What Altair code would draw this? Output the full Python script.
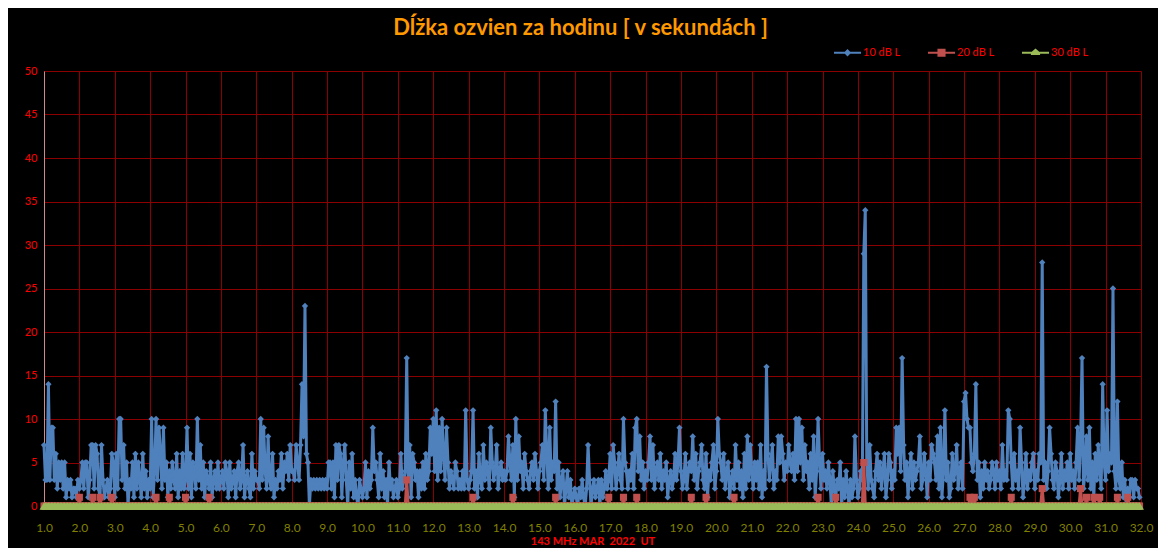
import altair as alt
import pandas as pd

# hourly echo durations [s], 10 dB L, one list per day of March 2022
d01 = [7, 3, 3, 14, 3, 9, 9, 3, 6, 2, 5, 3, 5, 2, 5, 1, 3, 2, 3, 1, 2, 2, 1, 3]
d02 = [2, 3, 5, 2, 5, 5, 1, 3, 7, 7, 2, 7, 6, 2, 1, 7, 3, 1, 2, 3, 1, 2, 6, 5]
d03 = [1, 6, 2, 10, 10, 3, 7, 2, 5, 0, 3, 2, 5, 1, 6, 2, 5, 3, 1, 6, 2, 4, 1, 3]
d04 = [2, 10, 1, 4, 10, 3, 9, 6, 2, 9, 3, 5, 1, 4, 2, 5, 3, 2, 6, 1, 4, 2, 6, 2]
d05 = [3, 9, 2, 6, 1, 5, 4, 2, 10, 3, 7, 2, 5, 1, 4, 3, 2, 5, 1, 3, 4, 2, 5, 2]
d06 = [3, 4, 2, 5, 4, 1, 5, 2, 3, 4, 1, 4, 5, 2, 3, 7, 1, 3, 4, 2, 1, 6, 2, 4]
d07 = [3, 3, 2, 10, 3, 9, 4, 2, 8, 3, 2, 6, 1, 3, 2, 4, 3, 6, 2, 5, 4, 6, 3, 7]
d08 = [4, 4, 3, 7, 5, 3, 7, 14, 8, 23, 6, 5, 0, 3, 2, 3, 2, 3, 2, 3, 2, 3, 2, 3]
d09 = [2, 5, 5, 2, 5, 1, 7, 3, 7, 6, 1, 5, 7, 3, 0, 5, 2, 6, 1, 3, 1, 0, 3, 2]
d10 = [1, 2, 5, 1, 4, 2, 3, 9, 4, 5, 3, 1, 6, 2, 4, 1, 3, 0, 5, 2, 3, 1, 2, 3]
d11 = [1, 2, 6, 2, 3, 4, 17, 3, 7, 1, 6, 5, 3, 4, 1, 4, 2, 5, 2, 6, 3, 4, 9, 6]
d12 = [10, 4, 11, 3, 9, 4, 10, 6, 3, 9, 5, 2, 4, 3, 2, 5, 4, 2, 3, 2, 4, 2, 11, 3]
d13 = [2, 3, 4, 11, 2, 4, 1, 6, 3, 2, 7, 3, 5, 4, 2, 9, 5, 3, 4, 7, 2, 4, 5, 3]
d14 = [4, 3, 4, 8, 5, 3, 7, 1, 10, 3, 8, 4, 5, 2, 6, 4, 3, 2, 4, 5, 3, 6, 4, 2]
d15 = [4, 5, 7, 3, 11, 6, 2, 9, 3, 5, 4, 12, 2, 5, 1, 3, 4, 0, 2, 4, 1, 3, 0, 1]
d16 = [2, 1, 0, 2, 1, 3, 1, 0, 2, 7, 3, 0, 2, 3, 1, 2, 3, 0, 3, 1, 2, 4, 2, 3]
d17 = [6, 2, 7, 5, 2, 4, 6, 3, 2, 10, 5, 4, 2, 4, 3, 6, 2, 9, 10, 4, 8, 3, 5, 2]
d18 = [4, 3, 5, 8, 3, 7, 2, 4, 5, 3, 6, 2, 4, 3, 5, 1, 3, 4, 2, 3, 6, 3, 5, 9]
d19 = [4, 2, 3, 6, 2, 4, 5, 4, 8, 3, 6, 2, 4, 5, 7, 3, 2, 6, 1, 4, 3, 5, 7, 2]
d20 = [4, 10, 6, 5, 3, 6, 2, 4, 5, 1, 3, 4, 2, 7, 3, 5, 2, 4, 1, 6, 2, 8, 3, 7]
d21 = [4, 2, 5, 3, 5, 2, 7, 1, 4, 2, 16, 6, 3, 5, 7, 2, 4, 3, 8, 5, 8, 6, 3, 5]
d22 = [4, 7, 5, 4, 6, 3, 10, 4, 10, 5, 9, 3, 7, 4, 5, 2, 6, 3, 8, 1, 4, 10, 5, 2]
d23 = [6, 3, 4, 2, 5, 3, 0, 4, 2, 1, 3, 2, 5, 0, 3, 1, 4, 2, 0, 3, 1, 2, 8, 3]
d24 = [1, 2, 4, 3, 29, 34, 5, 2, 7, 3, 2, 1, 4, 6, 3, 5, 2, 4, 6, 1, 3, 6, 5, 2]
d25 = [4, 3, 9, 6, 9, 4, 17, 7, 3, 5, 1, 4, 6, 2, 5, 3, 4, 5, 8, 2, 3, 6, 4, 1]
d26 = [5, 3, 7, 6, 5, 3, 8, 2, 9, 1, 4, 11, 3, 5, 1, 2, 6, 3, 4, 7, 2, 4, 5, 2]
d27 = [12, 13, 10, 9, 9, 5, 4, 6, 14, 3, 5, 1, 4, 2, 5, 3, 4, 2, 3, 5, 4, 2, 5, 3]
d28 = [4, 2, 7, 3, 4, 3, 11, 10, 5, 2, 6, 3, 4, 2, 9, 5, 1, 3, 6, 2, 4, 3, 5, 6]
d29 = [2, 4, 3, 6, 5, 28, 3, 5, 2, 4, 9, 6, 3, 2, 5, 4, 1, 3, 6, 2, 4, 3, 5, 2]
d30 = [6, 3, 4, 2, 5, 9, 3, 7, 17, 2, 4, 8, 3, 9, 2, 5, 1, 6, 3, 7, 4, 2, 14, 5]
d31 = [3, 11, 4, 6, 5, 25, 4, 2, 12, 3, 2, 5, 1, 3, 0, 2, 1, 3, 3, 1, 3, 2, 2, 1]

# 20 dB L: hours (counted from 1 March 00 UT) with a non-zero value, and those values
red_hours = [24, 33, 38, 46, 76, 85, 96, 112, 246, 291, 318, 347, 383, 393, 402,
             439, 449, 468, 525, 537, 556, 628, 631, 656, 677, 703, 707, 712, 716,
             728, 735]
red_values = [1, 1, 1, 1, 1, 1, 1, 1, 3, 1, 1, 1, 1, 1, 1,
              1, 1, 1, 1, 1, 5, 1, 1, 1, 2, 2, 1, 1, 1,
              1, 1]

series_names = ["10 dB L", "20 dB L", "30 dB L"]
series_colors = ["#4F81BD", "#C0504D", "#9BBB59"]
x_ticks = list(range(1, 33))
y_ticks = list(range(0, 51, 5))

blue = (d01 + d02 + d03 + d04 + d05 + d06 + d07 + d08 + d09 + d10 + d11 + d12 + d13 +
        d14 + d15 + d16 + d17 + d18 + d19 + d20 + d21 + d22 + d23 + d24 + d25 + d26 +
        d27 + d28 + d29 + d30 + d31)
n = len(blue)
red = [0] * n
for h, v in zip(red_hours, red_values):
    red[h] = v
green = [0] * n  # 30 dB L: no echoes in the whole month
xs = [1 + i / 24 for i in range(n)]

df = pd.DataFrame({
    "x": xs * 3,
    "v": blue + red + green,
    "s": [series_names[0]] * n + [series_names[1]] * n + [series_names[2]] * n,
})

# legend symbols: a short line with the series marker on it
p10 = "M-1,-0.075L-0.2,-0.075L0,-0.28L0.2,-0.075L1,-0.075L1,0.075L0.2,0.075L0,0.28L-0.2,0.075L-1,0.075Z"
p20 = "M-1,-0.075L-0.3,-0.075L-0.3,-0.3L0.3,-0.3L0.3,-0.075L1,-0.075L1,0.075L0.3,0.075L0.3,0.3L-0.3,0.3L-0.3,0.075L-1,0.075Z"
p30 = "M-1,-0.075L-0.28,-0.075L0,-0.32L0.28,-0.075L1,-0.075L1,0.075L0.34,0.075L0.34,0.16L-0.34,0.16L-0.34,0.075L-1,0.075Z"

def make_legend():
    return alt.Legend(
        orient="none", legendX=790, legendY=-32, direction="horizontal", title=None,
        labelColor="#FF0000", labelFont="Lato", labelFontSize=11, labelOffset=2,
        symbolSize=729, columnPadding=27, padding=0, symbolOpacity=1,
        symbolStrokeWidth=0,
    )

x_enc = alt.X("x:Q",
              scale=alt.Scale(domain=[1, 32], nice=False, zero=False),
              axis=alt.Axis(values=x_ticks, format=".1f", title="143 MHz MAR\u00a0 2022\u00a0 UT",
                            labelColor="#808000", labelFont="Lato", labelFontSize=12,
                            labelPadding=16, ticks=False, domain=False,
                            gridColor="#8B0000", gridWidth=1, gridOpacity=1,
                            titleColor="#FF0000", titleFont="Lato", titleFontSize=11,
                            titleFontWeight="bold", titlePadding=2, labelFlush=False))
y_enc = alt.Y("v:Q",
              scale=alt.Scale(domain=[0, 50], nice=False),
              axis=alt.Axis(values=y_ticks, title=None, labelColor="#FF0000", labelFont="Lato",
                            labelFontSize=11, labelPadding=7, ticks=False,
                            domainColor="#D08A8A", domainWidth=1,
                            gridColor="#8B0000", gridWidth=1, gridOpacity=1))
c_enc = alt.Color("s:N", scale=alt.Scale(domain=series_names, range=series_colors),
                  legend=make_legend())
s_enc = alt.Shape("s:N", scale=alt.Scale(domain=series_names, range=[p10, p20, p30]),
                  legend=make_legend())

base = alt.Chart(df).encode(x=x_enc, y=y_enc, color=c_enc)

layers = []
for name, shape, size, lw in [("10 dB L", "diamond", 40, 3), ("20 dB L", "square", 50, 3),
                              ("30 dB L", "triangle-up", 80, 4)]:
    sub = base.transform_filter(alt.datum.s == name)
    layers.append(sub.mark_line(strokeWidth=lw, strokeJoin="round"))
    layers.append(sub.mark_point(shape=shape, filled=True, size=size, opacity=1))

# invisible layer that only carries the legend symbols
legend_layer = base.transform_filter(alt.datum.x == 1).mark_point(
    filled=True, opacity=0).encode(shape=s_enc)
layers.append(legend_layer)

chart = alt.layer(*layers).properties(
    width=1097, height=435,
    background="#000000",
    padding={"left": 36, "top": 63, "right": 17, "bottom": 42},
    autosize=alt.AutoSizeParams(type="none"),
    title=alt.TitleParams("Dĺžka ozvien za hodinu [ v sekundách ]", color="#FF9900",
                          font="Lato", fontSize=22, fontWeight="bold",
                          anchor="middle", frame="group", offset=-1, dx=-12),
).configure_view(stroke=None)

chart.save("out.html", embed_options={"renderer": "svg", "actions": False})
